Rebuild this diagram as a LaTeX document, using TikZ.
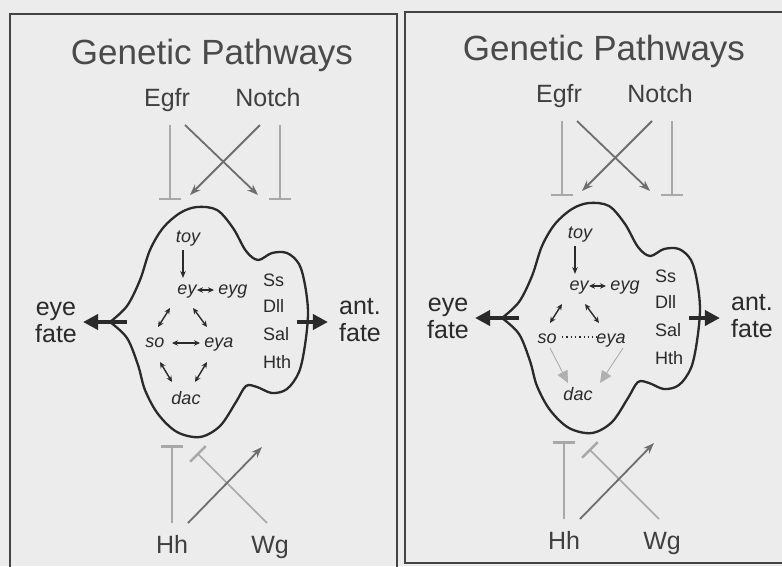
\documentclass[tikz,border=0pt]{standalone}
\usepackage{fontspec}
\setmainfont{Liberation Sans}
\usetikzlibrary{arrows.meta,calc}

\definecolor{bg}{HTML}{ECECEC}
\definecolor{ink}{HTML}{2A2A2A}
\definecolor{framec}{HTML}{444444}
\definecolor{lgray}{HTML}{A8A8A8}
\definecolor{dgray}{HTML}{6E6E6E}
\definecolor{fgray}{HTML}{B0B0B0}

\tikzset{
  ttl/.style={font=\fontsize{35}{40}\selectfont, text=ink!85, inner sep=0pt, anchor=base},
  lbl/.style={font=\fontsize{25}{27}\selectfont, text=ink!90, inner sep=0pt, anchor=base},
  gene/.style={font=\fontsize{18}{20}\selectfont\itshape, text=ink, inner sep=0pt, anchor=base},
  sel/.style={font=\fontsize{18}{20}\selectfont, text=ink, inner sep=0pt, anchor=base west},
  fatelbl/.style={font=\fontsize{25}{27}\selectfont, text=ink, align=center, inner sep=0pt},
  blob/.style={draw=ink, line width=2.3pt, line join=round},
  panelbox/.style={draw=framec, line width=1.8pt},
  inhib/.style={draw=lgray, line width=1.5pt, -{Bar[width=22pt,line width=2.5pt]}},
  activ/.style={draw=dgray, line width=1.8pt, -{Stealth[length=11pt,width=8pt]}},
  dbl/.style={draw=ink, line width=1.4pt, {Stealth[length=6pt,width=5.5pt]}-{Stealth[length=6pt,width=5.5pt]}},
  onearrow/.style={draw=ink, line width=1.3pt, -{Stealth[length=7pt,width=5.5pt]}},
  fatearrow/.style={draw=ink, line width=4.5pt, -{Triangle[length=15pt,width=15pt]}},
  faint/.style={draw=lgray, line width=0.8pt, -{Triangle[length=12pt,width=11pt,color=fgray,fill=fgray]}},
  dotline/.style={draw=ink, line width=1.2pt, dash pattern=on 1.3pt off 3pt}
}

\newcommand\gpanel[1]{%
  \node[ttl] (#1title) at (212,64) {Genetic Pathways};
  \node[lbl] (#1egfr) at (167,106) {Egfr};
  \node[lbl] (#1notch) at (268,106) {Notch};
  \node[lbl] (#1hh) at (172,553) {Hh};
  \node[lbl] (#1wg) at (270,553) {Wg};
  % blob
  \draw[blob] plot[smooth, tension=0.55] coordinates {
    (110,322) (127,306) (140,280) (150,250) (163,228) (180,213) (197,207)
    (217,210) (233,228) (246,251) (258,260) (272,253) (287,253) (299,264)
    (305,285) (308,313) (305,345) (299,372) (287,389) (272,393) (257,387)
    (246,386) (236,402) (220,426) (200,437) (177,432) (158,414) (145,390)
    (138,365) (127,338) (110,322)};
  % free ends
  \coordinate (#1tE) at (170,200);
  \coordinate (#1tN) at (280,200);
  \coordinate (#1aE) at (258,195);
  \coordinate (#1aN) at (190,195);
  \coordinate (#1tH) at (172,445);
  \coordinate (#1aH) at (262,447);
  \coordinate (#1tW) at (197,453);
  \coordinate (#1cE) at (127,322);
  \coordinate (#1cA) at (297,322);
  % upstream signals
  \draw[inhib] ($(#1egfr.base)+(3,19)$) -- (#1tE);
  \draw[inhib] ($(#1notch.base)+(12,19)$) -- (#1tN);
  \draw[activ] ($(#1egfr.base)+(18,19)$) -- (#1aE);
  \draw[activ] ($(#1notch.base)+(-8,19)$) -- (#1aN);
  \draw[inhib] ($(#1hh.base)+(0,-30)$) -- (#1tH);
  \draw[inhib] ($(#1wg.base)+(-3,-30)$) -- (#1tW);
  \draw[activ] ($(#1hh.base)+(16,-30)$) -- (#1aH);
  % genes
  \node[gene] (#1toy) at (188,242) {toy};
  \node[gene] (#1ey) at (187,294) {ey};
  \node[gene] (#1eyg) at (233,294) {eyg};
  \node[gene] (#1so) at (155,347) {so};
  \node[gene] (#1eya) at (219,347) {eya};
  \node[gene] (#1dac) at (186,404) {dac};
  \draw[onearrow] ($(#1toy.base)+(-5,8)$) -- ($(#1ey.base)+(-4,-16)$);
  \draw[dbl] ($(#1ey.base)+(10,-4)$) -- ($(#1eyg.base)+(-19,-4)$);
  \draw[dbl] ($(#1ey.base)+(-17,14)$) -- ($(#1so.base)+(3,-20)$);
  \draw[dbl] ($(#1ey.base)+(6,14)$) -- ($(#1eya.base)+(-12,-20)$);
  % selector genes
  \node[sel] (#1ss) at (263,286) {Ss};
  \node[sel] (#1dll) at (263,312) {Dll};
  \node[sel] (#1sal) at (263,340) {Sal};
  \node[sel] (#1hth) at (263,368) {Hth};
  % fates
  \node[fatelbl] (#1eye) at (56,322) {eye\\fate};
  \node[fatelbl] (#1ant) at (360,320) {ant.\\fate};
  \draw[fatearrow, shorten >=6pt] (#1cE) -- (#1cE -| #1eye.east);
  \draw[fatearrow, shorten >=11pt] (#1cA) -- (#1cA -| #1ant.west);
}

\begin{document}
\begin{tikzpicture}[x=1pt,y=-1pt]
  \fill[bg] (0,0) rectangle (782,566);
  \useasboundingbox (0,0) rectangle (782,566);

  \draw[panelbox] (10,14) rectangle (397,640);
  \draw[panelbox] (405,12) rectangle (810,563);

  % left panel
  \gpanel{L}
  \draw[dbl] ($(Lso.base)+(17,-4)$) -- ($(Leya.base)+(-19,-4)$);
  \draw[dbl] ($(Lso.base)+(5,15)$) -- ($(Ldac.base)+(-14,-22)$);
  \draw[dbl] ($(Leya.base)+(-12,15)$) -- ($(Ldac.base)+(9,-22)$);

  % right panel
  \begin{scope}[shift={(392,-4)}]
    \gpanel{R}
    \draw[dotline] ($(Rso.base)+(15,-6)$) -- ($(Reya.base)+(-14,-6)$);
    \draw[faint] ($(Rso.base)+(3,5)$) -- ($(Rdac.base)+(-10,-17)$);
    \draw[faint] ($(Reya.base)+(12,5)$) -- ($(Rdac.base)+(22,-17)$);
  \end{scope}
\end{tikzpicture}
\end{document}
